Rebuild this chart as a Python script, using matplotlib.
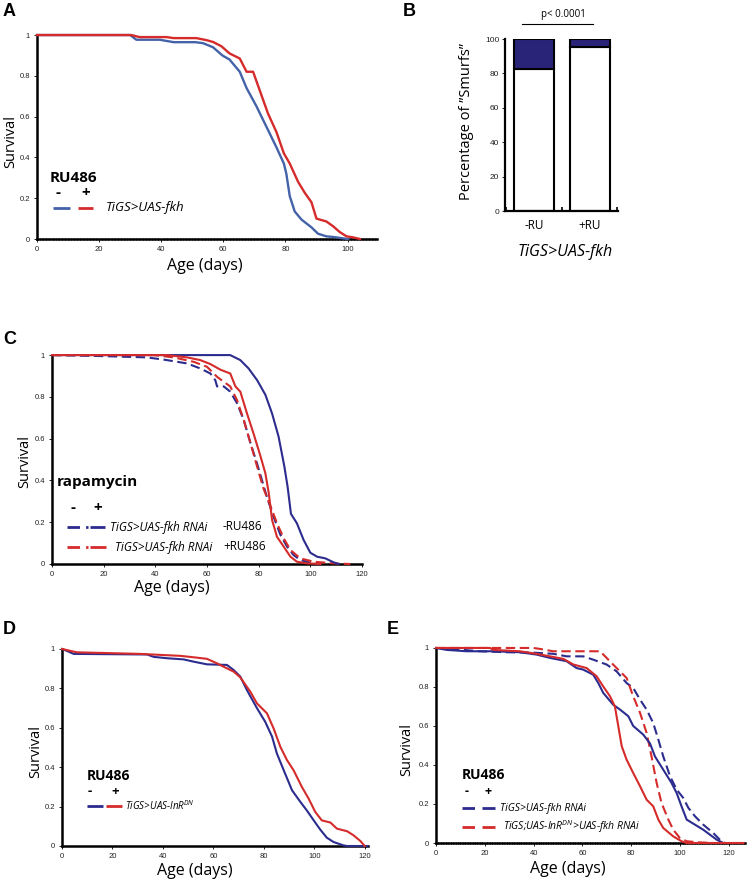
import matplotlib
matplotlib.use('Agg')
import matplotlib.pyplot as plt
from matplotlib.lines import Line2D
from matplotlib.ticker import MultipleLocator

plt.rcParams['font.family'] = ['Open Sans', 'DejaVu Sans']
plt.rcParams['mathtext.fontset'] = 'custom'
plt.rcParams['mathtext.it'] = 'Open Sans:italic'
plt.rcParams['mathtext.rm'] = 'Open Sans:italic'

# ---------------- data ----------------
# Panel A
A_days_minus = [0, 30, 32, 39.5, 44, 51, 53.5, 56.7, 59.7, 62, 65.3, 67.5, 70.7, 73.9, 77.1, 79.5,
                80.3, 81.4, 83, 85.2, 88.4, 90.5, 93.2, 95.4, 98.6, 100.2]
A_surv_minus = [1, 1, 0.977, 0.977, 0.965, 0.965, 0.96, 0.94, 0.90, 0.88, 0.82, 0.74, 0.65, 0.55, 0.45, 0.37,
                0.32, 0.21, 0.135, 0.095, 0.057, 0.026, 0.013, 0.01, 0.003, 0]
A_days_plus = [0, 30.4, 33, 41.7, 44, 51.3, 54.6, 56.7, 59.4, 62, 65.3, 67.5, 69.6, 71.7, 74.4, 77.1, 79.5,
               81.4, 84.1, 86.3, 88.4, 90, 93.2, 95.4, 97.5, 99.7, 101.8, 104]
A_surv_plus = [1, 1, 0.99, 0.99, 0.985, 0.985, 0.975, 0.966, 0.945, 0.91, 0.885, 0.82, 0.82, 0.73, 0.615, 0.525,
               0.42, 0.37, 0.28, 0.225, 0.18, 0.10, 0.086, 0.062, 0.034, 0.013, 0.008, 0]

# Panel B
B_groups = ['-RU', '+RU']
B_nonsmurf = [82.5, 95.5]
B_smurf = [17.5, 4.5]

# Panel C
C_blue_rapa_days = [0, 69, 72.9, 76.1, 79.4, 82.6, 85.2, 87.7, 89.9, 91.2, 92.5, 94.8, 97.4, 100, 102.6, 105.8, 109, 111]
C_blue_rapa_surv = [1, 1, 0.976, 0.936, 0.88, 0.81, 0.72, 0.61, 0.47, 0.37, 0.24, 0.195, 0.115, 0.054, 0.035, 0.027, 0.008, 0]
C_blue_ctrl_days = [0, 20, 36.8, 44.5, 52.3, 57.4, 61.3, 63.2, 63.9, 66.5, 69, 71.6, 74.2, 76.8, 79.4, 81.3, 83.2,
                    85.8, 88.4, 91, 93.5, 96.1, 100, 103.9]
C_blue_ctrl_surv = [1, 0.995, 0.989, 0.976, 0.96, 0.936, 0.912, 0.88, 0.85, 0.85, 0.825, 0.77, 0.69, 0.58, 0.48, 0.40,
                    0.32, 0.225, 0.14, 0.083, 0.043, 0.019, 0.006, 0]
C_red_rapa_days = [0, 44.5, 52.3, 57.4, 61.3, 65.2, 69, 71, 72.9, 75.5, 78, 80.6, 82.6, 83.9, 85.2, 87.1, 89.7, 92.3,
                   94.8, 98.7, 103.9]
C_red_rapa_surv = [1, 1, 0.989, 0.976, 0.957, 0.93, 0.912, 0.85, 0.825, 0.72, 0.625, 0.52, 0.434, 0.34, 0.21, 0.13,
                   0.083, 0.035, 0.011, 0.003, 0]
C_red_ctrl_days = [0, 39.4, 47.1, 54.8, 60, 63.9, 66.5, 69, 71.6, 74.2, 76.8, 79.4, 81.9, 84.5, 87.1, 89.7, 92.3,
                   96.1, 101.3, 109, 115.5]
C_red_ctrl_surv = [1, 1, 0.989, 0.968, 0.944, 0.896, 0.872, 0.85, 0.785, 0.69, 0.58, 0.466, 0.36, 0.28, 0.195, 0.123,
                   0.067, 0.027, 0.011, 0.003, 0]

# Panel D
D_minus_days = [0, 2, 4.6, 33.7, 36.3, 41.6, 48.2, 52, 57.4, 65.3, 68, 70.6, 73.3, 77.2, 80.5, 83.2, 85.1, 87.8,
                91.1, 94.4, 97, 99.7, 102.3, 104.9, 107.6, 111.5, 112.9, 121]
D_minus_surv = [1, 0.99, 0.975, 0.972, 0.96, 0.953, 0.947, 0.936, 0.922, 0.919, 0.893, 0.86, 0.79, 0.70, 0.63,
                0.555, 0.47, 0.385, 0.283, 0.224, 0.18, 0.13, 0.083, 0.042, 0.02, 0.003, 0, 0]
D_plus_days = [0, 5.9, 31, 38.9, 46.9, 52, 57.4, 61.4, 64, 68, 70.6, 74.6, 77.2, 81.2, 83.8, 86.5, 89.1, 91.7,
               95, 97.7, 100.3, 102.9, 106.3, 108.9, 112.9, 115.5, 118.2, 119.9]
D_plus_surv = [1, 0.983, 0.975, 0.97, 0.965, 0.958, 0.95, 0.927, 0.91, 0.885, 0.856, 0.783, 0.724, 0.673, 0.597,
               0.503, 0.436, 0.385, 0.30, 0.24, 0.173, 0.13, 0.119, 0.088, 0.075, 0.054, 0.025, 0]

# Panel E
E_fkh_plus_days = [0, 4.4, 12.6, 23.5, 34.4, 41.2, 46.7, 53.5, 57.6, 60.3, 64.4, 66.5, 68.5, 72.6, 75.4, 78.8,
                   80.8, 84.9, 87.7, 89.7, 93.1, 96.5, 98.6, 100.6, 102.7, 106.1, 109.5, 112.2, 115, 117.7]
E_fkh_plus_surv = [1, 0.99, 0.983, 0.983, 0.978, 0.966, 0.949, 0.932, 0.897, 0.889, 0.863, 0.82, 0.77, 0.709,
                   0.684, 0.65, 0.60, 0.556, 0.51, 0.444, 0.376, 0.308, 0.256, 0.188, 0.12, 0.094, 0.068, 0.043,
                   0.017, 0]
E_fkh_minus_days = [0, 11.2, 18, 29, 39.9, 48, 53.5, 60.3, 64.4, 69.9, 74, 78.1, 80.8, 83.6, 86.3, 89, 91.1,
                    93.1, 95.9, 98.6, 101.3, 103.4, 106.1, 109.5, 113.6, 116.3, 118.4]
E_fkh_minus_surv = [1, 0.99, 0.983, 0.978, 0.976, 0.97, 0.957, 0.957, 0.94, 0.915, 0.88, 0.82, 0.795, 0.735,
                    0.684, 0.615, 0.53, 0.444, 0.342, 0.274, 0.231, 0.18, 0.137, 0.094, 0.051, 0.017, 0]
E_inr_plus_days = [0, 22.1, 23.5, 34.4, 41.2, 46.7, 52.2, 56.3, 61.7, 65.8, 68.5, 71.3, 73.3, 74.7, 76.1, 78.1,
                   80.8, 83.6, 86.3, 89, 91.1, 93.1, 97.2, 100.6, 102.7, 126]
E_inr_plus_surv = [1, 1, 0.99, 0.983, 0.97, 0.957, 0.944, 0.915, 0.897, 0.855, 0.803, 0.752, 0.70, 0.598, 0.496,
                   0.427, 0.359, 0.291, 0.222, 0.188, 0.12, 0.077, 0.034, 0.009, 0, 0]
E_inr_minus_days = [0, 39.9, 42.6, 48, 67.2, 69.9, 74, 78.1, 80.8, 83.6, 86.3, 88.3, 90.4, 92.4, 95.2, 97.2,
                    99.9, 102.7, 108.1, 113.6]
E_inr_minus_surv = [1, 1, 0.995, 0.983, 0.983, 0.949, 0.897, 0.846, 0.752, 0.667, 0.564, 0.444, 0.308, 0.205,
                    0.12, 0.068, 0.026, 0.009, 0.003, 0]

surv_ticks = [0, 0.2, 0.4, 0.6, 0.8, 1.0]
surv_ticklabels = ['0', '0.2', '0.4', '0.6', '0.8', '1']

BLUE_A = '#4362A8'
RED = '#D52B2B'
NAVY = '#2C2C8E'
B_FILL = '#2A2479'
DASH = (4.5, 2.2)

# ---------------- layout helpers ----------------
W, H = 747, 881
fig = plt.figure(figsize=(W / 100, H / 100), dpi=100)


def px_axes(left, right, top, bottom):
    return fig.add_axes([left / W, 1 - bottom / H, (right - left) / W, (bottom - top) / H])


def ftxt(x, y, s, **kw):
    kw.setdefault('va', 'center')
    return fig.text(x / W, 1 - y / H, s, **kw)


def key(x1, x2, y, color, dashed=False, lw=2.0):
    ln = Line2D([x1 / W, x2 / W], [1 - y / H, 1 - y / H], transform=fig.transFigure,
                color=color, lw=lw, solid_capstyle='butt')
    if dashed:
        ln.set_dashes(DASH)
    fig.add_artist(ln)


TICKFONT = 'Liberation Sans'


def style_surv(ax, xmax, xticks, minor=False):
    ax.set_xlim(0, xmax)
    ax.set_ylim(0, 1.01)
    for s in ['top', 'right']:
        ax.spines[s].set_visible(False)
    for s in ['left', 'bottom']:
        ax.spines[s].set_linewidth(1.8)
        ax.spines[s].set_color('black')
    ax.spines['left'].set_bounds(0, 1.0)
    ax.set_yticks(surv_ticks)
    ax.set_yticklabels(surv_ticklabels)
    ax.set_xticks(xticks)
    ax.set_xticklabels([str(t) for t in xticks])
    ax.tick_params(which='major', length=2, width=0.7, labelsize=5.5, pad=3, colors='#222222')
    if minor:
        ax.xaxis.set_minor_locator(MultipleLocator(1))
        ax.tick_params(axis='x', which='minor', length=1.6, width=0.7, direction='inout')
    for lab in ax.get_xticklabels() + ax.get_yticklabels():
        lab.set_fontfamily(TICKFONT)


def curve(ax, x, y, color, dashed=False, lw=1.5):
    ln, = ax.plot(x, y, color=color, lw=lw, clip_on=False, zorder=3)
    if dashed:
        ln.set_dashes(DASH)
    return ln


LETTER = dict(fontfamily='Liberation Sans', fontweight='bold', fontsize=13, ha='left')

# ---------------- Panel A ----------------
axA = px_axes(37, 377, 33, 239)
style_surv(axA, 109.5, [0, 20, 40, 60, 80, 100], minor=True)
curve(axA, A_days_minus, A_surv_minus, BLUE_A, lw=1.7)
curve(axA, A_days_plus, A_surv_plus, RED, lw=1.7)
ftxt(3, 12, 'A', **LETTER)
ftxt(11, 142, 'Survival', rotation=90, ha='center', fontsize=10.5)
ftxt(205, 266, 'Age (days)', ha='center', fontsize=11.5)
ftxt(50, 178, 'RU486', fontweight='bold', fontsize=11, ha='left')
ftxt(58, 193, '-', fontweight='bold', fontsize=11, ha='center')
ftxt(86, 193, '+', fontweight='bold', fontsize=11, ha='center')
key(53, 70, 208, BLUE_A)
key(78, 93, 208, RED)
ftxt(106, 208, 'TiGS>UAS-fkh', style='italic', fontsize=9.5, ha='left')

# ---------------- Panel B ----------------
axB = px_axes(505, 618, 39, 211)
xpos = [0, 1]
axB.bar(xpos, B_nonsmurf, width=0.72, color='white', edgecolor='black', lw=1.5, zorder=2)
axB.bar(xpos, B_smurf, width=0.72, bottom=B_nonsmurf, color=B_FILL, edgecolor='black', lw=1.5, zorder=2)
axB.set_xlim(-0.52, 1.51)
axB.set_ylim(0, 100)
for s in ['top', 'right']:
    axB.spines[s].set_visible(False)
for s in ['left', 'bottom']:
    axB.spines[s].set_linewidth(1.6)
axB.set_yticks([0, 20, 40, 60, 80, 100])
axB.set_xticks(xpos)
axB.set_xticklabels(B_groups)
axB.tick_params(axis='y', length=2, width=0.7, labelsize=6, pad=2, colors='#222222')
axB.tick_params(axis='x', length=0, labelsize=8.5, pad=6)
axB.set_xticks([-0.5, 0.5, 1.5], minor=True)
axB.tick_params(axis='x', which='minor', length=3, width=1.2, direction='in')
for lab in axB.get_yticklabels():
    lab.set_fontfamily(TICKFONT)
ftxt(403, 12, 'B', **LETTER)
ftxt(467, 122, 'Percentage of \u201dSmurfs\u201d', rotation=90, ha='center', fontsize=10.5)
ftxt(563, 15, 'p< 0.0001', ha='center', fontsize=7)
fig.add_artist(Line2D([522 / W, 593 / W], [1 - 24 / H, 1 - 24 / H], transform=fig.transFigure,
                      color='black', lw=0.8))
ftxt(565, 252, 'TiGS>UAS-fkh', style='italic', fontsize=11.5, ha='center')

# ---------------- Panel C ----------------
axC = px_axes(52, 362, 353, 564)
style_surv(axC, 120, [0, 20, 40, 60, 80, 100, 120])
curve(axC, C_blue_ctrl_days, C_blue_ctrl_surv, NAVY, dashed=True)
curve(axC, C_red_ctrl_days, C_red_ctrl_surv, RED, dashed=True)
curve(axC, C_blue_rapa_days, C_blue_rapa_surv, NAVY)
curve(axC, C_red_rapa_days, C_red_rapa_surv, RED)
ftxt(3, 339, 'C', **LETTER)
ftxt(25, 461, 'Survival', rotation=90, ha='center', fontsize=10.5)
ftxt(172, 588, 'Age (days)', ha='center', fontsize=11.5)
ftxt(57, 482, 'rapamycin', fontweight='bold', fontsize=11, ha='left')
ftxt(73, 508, '-', fontweight='bold', fontsize=11, ha='center')
ftxt(98, 508, '+', fontweight='bold', fontsize=11, ha='center')
key(67, 88, 527, NAVY, dashed=True)
key(90, 105, 527, NAVY)
ftxt(110, 527, 'TiGS>UAS-fkh RNAi', style='italic', fontsize=8.5, ha='left')
ftxt(223, 527, '-RU486', fontsize=8.5, ha='left')
key(67, 88, 547, RED, dashed=True)
key(90, 106, 547, RED)
ftxt(115, 547, 'TiGS>UAS-fkh RNAi', style='italic', fontsize=8.5, ha='left')
ftxt(223, 547, '+RU486', fontsize=8.5, ha='left')

# ---------------- Panel D ----------------
axD = px_axes(62, 367.5, 647, 846)
style_surv(axD, 121, [0, 20, 40, 60, 80, 100, 120])
curve(axD, D_minus_days, D_minus_surv, NAVY)
curve(axD, D_plus_days, D_plus_surv, RED)
ftxt(3, 630, 'D', **LETTER)
ftxt(36, 751, 'Survival', rotation=90, ha='center', fontsize=10.5)
ftxt(195, 871, 'Age (days)', ha='center', fontsize=11.5)
ftxt(87, 776, 'RU486', fontweight='bold', fontsize=10, ha='left')
ftxt(90, 791, '-', fontweight='bold', fontsize=9.5, ha='center')
ftxt(115, 791, '+', fontweight='bold', fontsize=9.5, ha='center')
key(87, 103, 806, NAVY)
key(106, 122, 806, RED)
ftxt(125, 806, r'TiGS>UAS-InR$^{DN}$', style='italic', fontsize=7, ha='left')

# ---------------- Panel E ----------------
axE = px_axes(436, 745, 646, 843)
style_surv(axE, 126.6, [0, 20, 40, 60, 80, 100, 120], minor=True)
curve(axE, E_fkh_minus_days, E_fkh_minus_surv, NAVY, dashed=True)
curve(axE, E_inr_minus_days, E_inr_minus_surv, RED, dashed=True)
curve(axE, E_fkh_plus_days, E_fkh_plus_surv, NAVY)
curve(axE, E_inr_plus_days, E_inr_plus_surv, RED)
ftxt(387, 630, 'E', **LETTER)
ftxt(407, 749, 'Survival', rotation=90, ha='center', fontsize=10.5)
ftxt(568, 869, 'Age (days)', ha='center', fontsize=11.5)
ftxt(462, 775, 'RU486', fontweight='bold', fontsize=10, ha='left')
ftxt(467, 791, '-', fontweight='bold', fontsize=9, ha='center')
ftxt(488, 791, '+', fontweight='bold', fontsize=9, ha='center')
key(462, 480, 808, NAVY, dashed=True)
key(482, 495, 808, NAVY)
ftxt(500, 808, 'TiGS>UAS-fkh RNAi', style='italic', fontsize=7.5, ha='left')
key(462, 480, 827, RED, dashed=True)
key(482, 495, 827, RED)
ftxt(503, 827, r'TiGS;UAS-InR$^{DN}$>UAS-fkh RNAi', style='italic', fontsize=7.5, ha='left')

fig.savefig('out.png', dpi=100)
